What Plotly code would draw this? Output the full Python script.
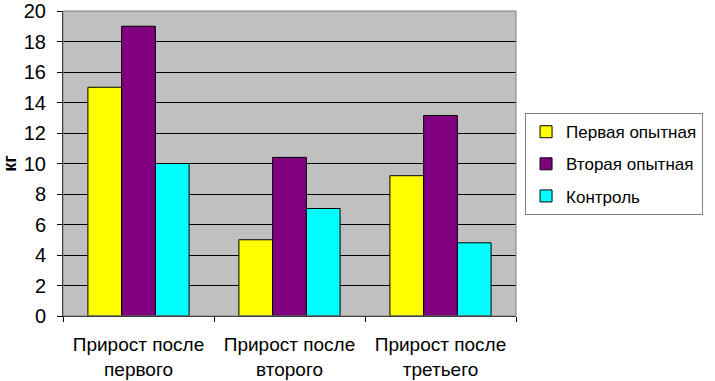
import plotly.graph_objects as go

categories = ["Прирост после<br>первого", "Прирост после<br>второго", "Прирост после<br>третьего"]
series_names = ["Первая опытная", "Вторая опытная", "Контроль"]
first_exp = [15, 5, 9.2]
second_exp = [19, 10.4, 13.15]
control = [10, 7.05, 4.8]
colors = ["#FFFF00", "#800080", "#00FFFF"]
y_ticks = list(range(0, 21, 2))

fig = go.Figure()
for i, (name, vals) in enumerate(zip(series_names, [first_exp, second_exp, control])):
    fig.add_trace(go.Bar(
        x=categories, y=vals, name=name,
        legendgroup=f"g{i}",
        marker=dict(color=colors[i], line=dict(color="black", width=1)),
    ))

font = "Liberation Sans, Arial, sans-serif"
fig.update_layout(
    width=715, height=381,
    margin=dict(l=63, r=199, t=11, b=65, autoexpand=False),
    paper_bgcolor="white",
    plot_bgcolor="#C0C0C0",
    barmode="group",
    bargap=0.33,
    bargroupgap=0,
    font=dict(family=font, color="black"),
    showlegend=True,
    legend=dict(
        x=1.02, y=0.665, xanchor="left", yanchor="top",
        bgcolor="white", bordercolor="#808080", borderwidth=1,
        font=dict(size=17, family=font, color="black"),
        tracegroupgap=7,
        itemclick=False,
    ),
    xaxis=dict(
        type="category",
        automargin=False,
        tickson="boundaries",
        ticks="outside", ticklen=5, tickcolor="black",
        showline=True, linecolor="black", linewidth=1,
        showgrid=False,
        ticklabelstandoff=11,
        tickfont=dict(size=19, family=font, color="black"),
    ),
    yaxis=dict(
        range=[0, 20],
        automargin=False,
        tickvals=y_ticks,
        ticks="outside", ticklen=5, tickcolor="black",
        showline=True, linecolor="black", linewidth=1,
        showgrid=True, gridcolor="black", gridwidth=1,
        zeroline=False,
        ticklabeloverflow="allow",
        ticklabelstandoff=7,
        tickfont=dict(size=20, family=font, color="black"),
        title=dict(text="<b>кг</b>", font=dict(size=18, family=font, color="black"), standoff=8),
    ),
    shapes=[dict(type="rect", xref="paper", yref="paper", x0=0, x1=1, y0=0, y1=1,
                 line=dict(color="#808080", width=1), layer="above")],
)

fig.write_html("out.html", config={"displayModeBar": False},
               post_script="document.body.style.margin='0';document.body.style.overflow='hidden';")
